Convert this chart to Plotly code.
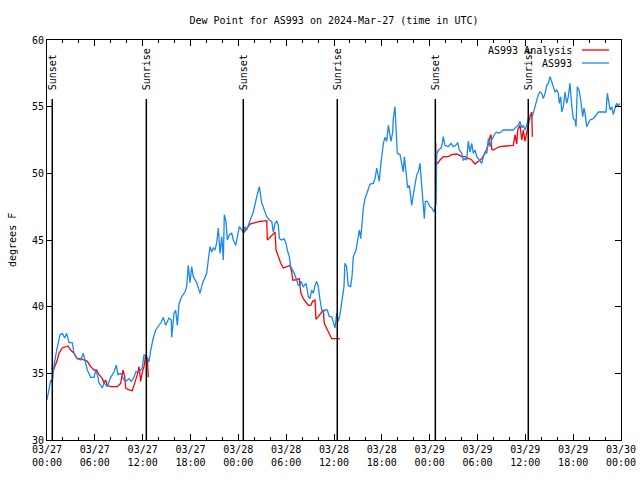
import pandas as pd
import plotly.graph_objects as go

START = pd.Timestamp("2024-03-27 00:00")

# AS993 observations: hours since 03/27 00:00 UTC, dew point (F)
obs_hours = [0.0, 0.46, 0.66, 0.88, 1.22, 1.63, 1.92, 2.22, 2.47, 2.76, 3.17, 3.39, 3.80, 4.23, 4.55, 4.85,
             5.06, 5.48, 5.90, 6.11, 6.31, 6.52, 6.94, 7.15, 7.56, 7.99, 8.40, 8.69, 8.91, 9.24, 9.66, 9.87,
             10.29, 10.57, 10.91, 11.13, 11.54, 11.95, 12.17, 12.58, 12.80, 13.01, 13.33, 13.64, 14.05, 14.34,
             14.59, 14.89, 15.30, 15.59, 15.64, 15.93, 16.14, 16.35, 16.56, 16.90, 17.31, 17.52, 17.72, 17.94,
             18.15, 18.35, 18.78, 19.19, 19.53, 19.82, 20.03, 20.23, 20.45, 20.66, 20.86, 21.07, 21.29, 21.49,
             21.70, 21.92, 22.12, 22.24, 22.45, 22.62, 22.87, 23.17, 23.37, 23.67, 23.87, 24.12, 24.42, 24.62,
             24.84, 25.05, 25.25, 25.46, 25.88, 26.31, 26.63, 26.93, 27.35, 27.56, 27.89, 28.19, 28.39, 28.60,
             28.82, 29.02, 29.15, 29.44, 29.73, 29.98, 30.14, 30.39, 30.57, 30.82, 31.02, 31.32, 31.52, 31.74,
             31.86, 32.15, 32.49, 32.65, 32.78, 32.99, 33.20, 33.41, 33.62, 33.83, 34.03, 34.25, 34.46, 34.66,
             34.87, 35.16, 35.41, 35.71, 35.91, 36.13, 36.34, 36.54, 36.75, 36.96, 37.17, 37.25, 37.37, 37.58,
             37.78, 38.08, 38.26, 38.42, 38.76, 38.93, 39.18, 39.35, 39.51, 39.68, 39.89, 40.10, 40.31, 40.52,
             40.93, 41.15, 41.36, 41.56, 41.68, 41.86, 41.98, 42.19, 42.40, 42.61, 42.81, 43.03, 43.15, 43.36,
             43.44, 43.65, 43.78, 43.94, 44.28, 44.49, 44.69, 44.82, 45.03, 45.25, 45.45, 45.57, 45.75, 45.95,
             46.16, 46.38, 46.58, 46.79, 47.00, 47.20, 47.33, 47.45, 47.70, 48.04, 48.26, 48.55, 48.80, 48.88,
             49.09, 49.42, 49.59, 49.71, 49.92, 50.34, 50.68, 50.96, 51.27, 51.52, 51.72, 52.02, 52.22, 52.43,
             52.64, 52.85, 53.06, 53.28, 53.48, 53.69, 53.90, 54.10, 54.32, 54.53, 54.73, 54.94, 55.16, 55.36,
             55.57, 55.78, 55.99, 56.20, 56.41, 56.61, 56.95, 57.24, 57.45, 58.49, 58.71, 58.92, 59.12, 59.33,
             59.55, 59.75, 59.96, 60.17, 60.37, 60.80, 61.09, 61.43, 61.63, 61.84, 62.06, 62.26, 62.47, 62.68,
             62.88, 63.10, 63.31, 63.51, 63.72, 63.94, 64.14, 64.26, 64.44, 64.56, 64.76, 64.98, 65.19, 65.39,
             65.60, 65.82, 66.02, 66.23, 66.36, 66.52, 66.73, 66.95, 67.20, 67.36, 67.49, 67.70, 67.90, 68.11,
             68.53, 68.87, 69.16, 70.12, 70.29, 70.46, 70.63, 70.84, 71.04, 71.25, 71.46, 71.62, 71.84]
obs_values = [33.0, 34.5, 34.3, 35.6, 36.75, 37.9, 38.0, 37.65, 38.0, 37.3, 37.3, 36.5, 36.1, 36.0, 36.5, 35.8,
              35.25, 34.7, 34.7, 35.25, 34.9, 34.3, 33.9, 34.3, 34.0, 34.7, 35.1, 35.6, 34.9, 35.0, 34.5, 34.4,
              34.6, 34.4, 34.7, 35.1, 35.1, 35.4, 36.4, 36.2, 35.85, 36.75, 37.65, 38.25, 38.6, 38.85,
              39.2, 38.6, 39.15, 39.0, 37.7, 39.5, 39.75, 38.6, 40.2, 40.75, 41.1, 41.5, 43.1, 41.8,
              43.0, 42.25, 41.8, 41.0, 41.8, 42.25, 42.5, 43.5, 44.5, 44.1, 44.4, 44.25, 44.8, 45.9,
              44.0, 45.25, 43.5, 46.9, 46.4, 45.0, 45.4, 45.5, 45.0, 44.6, 45.25, 46.0, 45.75, 45.6,
              46.0, 45.75, 46.1, 46.4, 47.1, 48.25, 49.0, 47.8, 47.0, 46.75, 46.5, 46.4, 45.6, 46.25,
              46.4, 46.1, 45.1, 45.0, 45.1, 44.75, 44.25, 43.75, 43.0, 42.75, 42.5, 42.0, 41.6, 41.6,
              41.9, 41.5, 41.75, 41.25, 40.75, 40.6, 41.25, 41.0, 41.6, 41.9, 41.5, 40.5, 39.75, 39.6,
              39.75, 39.75, 39.25, 39.25, 38.75, 38.4, 39.5, 38.9, 39.4, 40.25, 41.0, 41.5, 43.25, 43.0,
              41.6, 41.5, 42.25, 43.75, 44.25, 44.9, 45.75, 45.1, 46.4, 47.4, 48.1, 48.5, 48.9, 49.2,
              49.25, 49.6, 50.4, 49.75, 49.4, 50.6, 51.25, 52.25, 52.7, 52.4, 53.6, 52.9, 52.4, 53.1,
              54.1, 55.0, 53.6, 51.5, 51.4, 50.75, 50.1, 51.25, 50.25, 48.9, 49.1, 48.6, 47.6, 48.4,
              49.1, 49.9, 50.1, 50.75, 49.1, 47.6, 46.6, 47.9, 47.9, 47.5, 47.4, 47.1, 47.75, 51.4,
              51.75, 51.9, 52.25, 52.75, 52.1, 52.0, 52.25, 52.0, 52.1, 52.3, 51.75, 51.5, 51.0, 51.1,
              51.0, 52.4, 51.6, 52.25, 51.5, 51.75, 51.25, 51.1, 50.9, 50.75, 51.25, 51.6, 51.5, 52.6,
              52.0, 52.5, 52.75, 53.0, 53.1, 53.0, 53.1, 53.25, 53.25, 53.25, 53.4, 53.5, 53.6, 53.9,
              53.4, 53.6, 53.25, 53.6, 54.1, 54.1, 54.75, 55.4, 55.9, 56.1, 56.0, 55.6, 56.0, 56.6,
              56.75, 57.25, 56.9, 56.6, 56.1, 56.25, 56.0, 55.25, 55.75, 54.6, 55.0, 56.1, 55.25, 55.75,
              56.75, 55.1, 54.1, 54.0, 53.5, 56.5, 56.25, 55.5, 54.25, 54.9, 54.5, 53.5, 53.75, 54.0,
              54.1, 54.4, 54.6, 54.6, 56.0, 55.4, 54.75, 55.0, 54.4, 54.9, 55.25, 55.0, 55.25]

# AS993 Analysis (None = gap)
ana_hours = [0.55, 0.85, 1.29, 1.50, 1.92, 2.35, 2.63, 2.97, 3.39, 3.60, 3.80, 4.23, 4.64, 5.06, 5.48, 5.90,
             6.23, 6.52, 6.94, 7.15, 7.36, 7.56, 7.99, 8.82, 9.24, 9.53, 9.75, 9.87, 10.29, 10.70, 10.91,
             11.33, 11.54, 11.75, 11.95, 12.17, 12.38, 12.58, 12.71,
             None,
             24.62, 24.96, 25.46, 26.09, 26.72, 27.56, 27.64, 28.31, 28.60, 28.73, 29.02, 29.32, 29.64, 30.07,
             30.48, 30.70, 30.82, 31.11, 31.65, 31.74, 31.86, 32.15, 32.58, 32.78, 33.08, 33.33, 33.62, 33.74,
             34.03, 34.46, 34.66, 34.78, 35.09, 35.41, 35.71, 36.75,
             None,
             48.76, 48.80, 49.01, 49.30, 49.71, 50.34, 50.76, 51.39, 51.59, 52.02, 52.43, 52.85, 53.28, 53.69,
             54.10, 54.53, 54.94, 55.28, 55.57, 55.70, 55.78, 55.99, 56.41, 56.82, 57.66, 58.49, 58.71, 58.92,
             59.04, 59.33, 59.55, 59.75, 59.96, 60.17, 60.37, 60.58, 60.80, 60.88]
ana_values = [35.4, 35.3, 36.0, 36.5, 36.9, 37.0, 37.05, 36.75, 36.5, 36.25, 36.1, 36.1, 36.0, 35.9, 35.5, 35.25,
              35.25, 34.9, 34.6, 34.25, 34.5, 34.1, 34.0, 34.0, 34.25, 35.25, 34.75, 33.9, 33.75, 33.7, 34.1,
              34.9, 35.5, 34.4, 35.1, 35.5, 36.4, 36.1, 34.7,
              None,
              45.5, 45.75, 46.2, 46.3, 46.4, 46.45, 45.0, 45.4, 45.6, 44.25, 43.75, 43.25, 42.9, 43.0,
              43.1, 42.6, 42.0, 42.0, 42.1, 41.5, 41.0, 40.6, 40.25, 40.1, 40.1, 40.4, 40.5, 39.05,
              39.25, 39.6, 39.75, 38.75, 38.4, 38.0, 37.6, 37.6,
              None,
              52.3, 50.9, 50.75, 51.0, 51.25, 51.25, 51.4, 51.45, 51.4, 51.25, 51.25, 51.1, 51.0, 50.7,
              50.9, 51.1, 51.5, 52.0, 52.75, 52.9, 51.8, 51.75, 51.9, 52.0, 52.05, 52.1, 52.9, 52.2,
              53.25, 53.6, 52.5, 53.25, 52.4, 53.1, 53.75, 54.25, 54.6, 52.75]

# Sun events: hours since start
sun_event_hours = [0.66, 12.46, 24.62, 36.41, 48.71, 60.37]
sun_event_labels = ["Sunset", "Sunrise", "Sunset", "Sunrise", "Sunset", "Sunrise"]

tick_hours = list(range(0, 73, 6))
tick_labels = ["03/27<br>00:00", "03/27<br>06:00", "03/27<br>12:00", "03/27<br>18:00",
               "03/28<br>00:00", "03/28<br>06:00", "03/28<br>12:00", "03/28<br>18:00",
               "03/29<br>00:00", "03/29<br>06:00", "03/29<br>12:00", "03/29<br>18:00",
               "03/30<br>00:00"]

def to_time(hs):
    return [START + pd.Timedelta(hours=h) if h is not None else None for h in hs]

FONT = "DejaVu Sans Mono"
FS = 10
RED = "#ff0000"
BLUE = "#1a88f0"

fig = go.Figure()
fig.add_trace(go.Scatter(x=to_time(ana_hours), y=ana_values, mode="lines",
                         line=dict(color=RED, width=1.3), name="AS993 Analysis",
                         showlegend=False, connectgaps=False))
fig.add_trace(go.Scatter(x=to_time(obs_hours), y=obs_values, mode="lines",
                         line=dict(color=BLUE, width=1.3), name="AS993", showlegend=False))

shapes = []
annotations = []
for h, lab in zip(sun_event_hours, sun_event_labels):
    t = START + pd.Timedelta(hours=h)
    shapes.append(dict(type="line", xref="x", yref="paper", x0=t, x1=t, y0=0, y1=0.8525,
                       line=dict(color="black", width=1.5)))
    annotations.append(dict(x=t, y=0.87, xref="x", yref="paper", text=lab, showarrow=False,
                            textangle=-90, xanchor="center", yanchor="bottom",
                            font=dict(family=FONT, size=FS, color="black")))

# legend (gnuplot style: text right, sample on the right)
for yy, lab, col in [(0.975, "AS993 Analysis", RED), (0.9425, "AS993", BLUE)]:
    annotations.append(dict(x=0.918, y=yy, xref="paper", yref="paper", text=lab, showarrow=False,
                            xanchor="right", yanchor="middle",
                            font=dict(family=FONT, size=FS, color="black")))
    shapes.append(dict(type="line", xref="paper", yref="paper", x0=0.932, x1=0.979, y0=yy, y1=yy,
                       line=dict(color=col, width=1.3)))

annotations.append(dict(x=-0.061, y=0.5, xref="paper", yref="paper", text="degrees F", showarrow=False,
                        textangle=-90, xanchor="center", yanchor="middle",
                        font=dict(family=FONT, size=FS, color="black")))

fig.update_layout(
    width=640, height=480,
    margin=dict(l=47, r=19, t=40, b=40, autoexpand=False),
    paper_bgcolor="white", plot_bgcolor="white",
    title=dict(text="Dew Point for AS993 on 2024-Mar-27 (time in UTC)", x=(47 + 287) / 640,
               xanchor="center", y=1 - 20 / 480, yanchor="middle",
               font=dict(family=FONT, size=FS, color="black")),
    font=dict(family=FONT, size=FS, color="black"),
    shapes=shapes, annotations=annotations,
    showlegend=False,
)
fig.update_xaxes(
    range=[START, START + pd.Timedelta(hours=72)],
    tickvals=to_time(tick_hours), ticktext=tick_labels,
    ticks="inside", ticklen=6, tickwidth=1, tickcolor="black",
    minor=dict(dtick=2 * 3600000, ticks="inside", ticklen=3, tickcolor="black", tickwidth=1, showgrid=False),
    showline=True, linecolor="black", linewidth=1, mirror="ticks",
    showgrid=False, zeroline=False, tickangle=0, automargin=False,
    tickfont=dict(family=FONT, size=FS, color="black"),
)
fig.update_yaxes(
    range=[30, 60], dtick=5, tick0=30,
    ticks="inside", ticklen=6, tickwidth=1, tickcolor="black",
    showline=True, linecolor="black", linewidth=1, mirror="ticks",
    showgrid=False, zeroline=False, automargin=False,
    tickfont=dict(family=FONT, size=FS, color="black"),
)

fig.write_html("out.html", config={"displayModeBar": False},
               post_script="document.body.style.margin='0';document.body.style.overflow='hidden';")
